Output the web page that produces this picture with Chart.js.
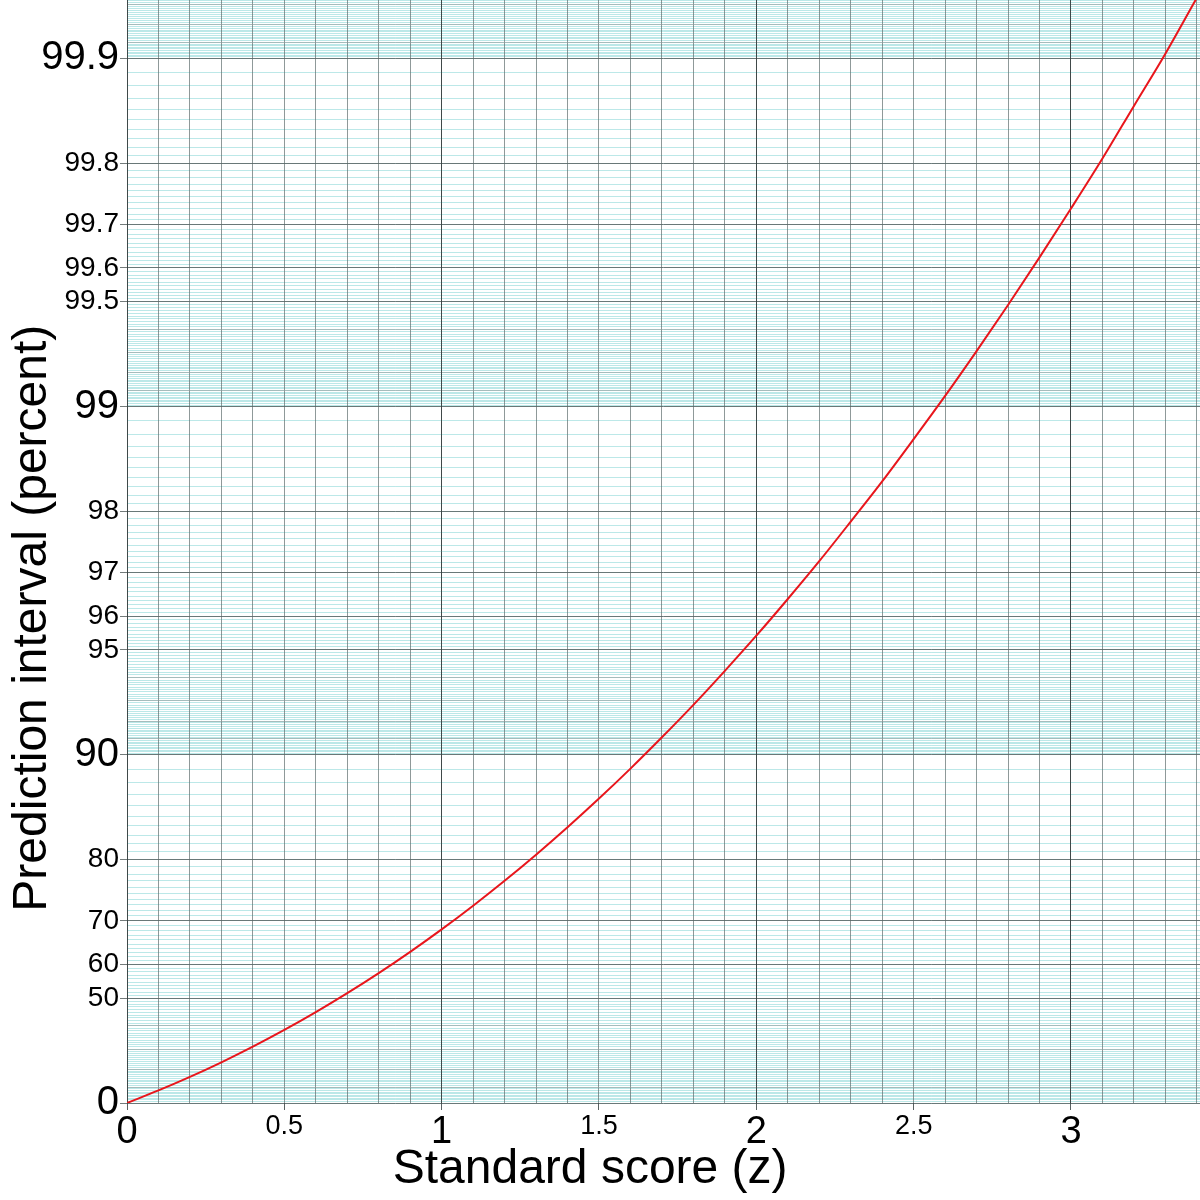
<!DOCTYPE html>
<html>
<head>
<meta charset="utf-8">
<script src="https://cdn.jsdelivr.net/npm/chart.js@4.4.1/dist/chart.umd.min.js"></script>
<style>
  body { margin: 0; background: #fff; }
</style>
</head>
<body>
<canvas id="zChart" width="1200" height="1200"></canvas>
<script>
// standard score vs prediction interval
const zScore = [0, 0.1, 0.2, 0.3, 0.4, 0.5, 0.6, 0.7, 0.8, 0.9,
    1.0, 1.1, 1.2, 1.3, 1.4, 1.5, 1.6, 1.7, 1.8, 1.9,
    2.0, 2.1, 2.2, 2.3, 2.4, 2.5, 2.6, 2.7, 2.8, 2.9,
    3.0, 3.1, 3.2, 3.3, 3.4];
const intervalPct = [0, 7.97, 15.85, 23.58, 31.08, 38.29, 45.15, 51.61, 57.63, 63.19,
    68.27, 72.87, 76.99, 80.64, 83.85, 86.64, 89.04, 91.09, 92.81, 94.26,
    95.45, 96.43, 97.22, 97.86, 98.36, 98.76, 99.068, 99.307, 99.489, 99.627,
    99.730, 99.806, 99.863, 99.903, 99.933];

// axis ticks
const xLabelTicks = [0, 0.5, 1, 1.5, 2, 2.5, 3];
const yLabelTicks = [0, 50, 60, 70, 80, 90, 95, 96, 97, 98, 99, 99.5, 99.6, 99.7, 99.8, 99.9];
const yBigTicks = [0, 90, 99, 99.9];
const yMidTicks = [10, 20, 30, 40, 91, 92, 93, 94, 99.1, 99.2, 99.3, 99.4, 99.91, 99.92, 99.93];

// fine graph-paper lines
const xGridTicks = [];
for (let i = 0; i <= 34; i++) xGridTicks.push(i / 10);
const yFineTicks = [];
for (let i = 0; i < 90; i++) yFineTicks.push(i);
for (let i = 0; i < 90; i++) yFineTicks.push(90 + i / 10);
for (let i = 0; i < 90; i++) yFineTicks.push(99 + i / 100);
for (let i = 0; i <= 32; i++) yFineTicks.push(99.9 + i / 1000);

const FONT = 'Liberation Sans, Arial, sans-serif';

// probability scale: position goes with -log10(1 - p)
const tf = p => -Math.log10(1 - p / 100);

class ProbabilityScale extends Chart.Scale {
    determineDataLimits() {
        this.min = this.options.min;
        this.max = this.options.max;
    }
    buildTicks() {
        return [];
    }
    getLabelForValue(value) {
        return String(value);
    }
    configure() {
        super.configure();
        this._startValue = tf(this.min);
        this._valueRange = tf(this.max) - this._startValue;
    }
    getPixelForValue(value) {
        return this.getPixelForDecimal((tf(value) - this._startValue) / this._valueRange);
    }
    getValueForPixel(pixel) {
        const v = this._startValue + this.getDecimalForPixel(pixel) * this._valueRange;
        return 100 * (1 - Math.pow(10, -v));
    }
}
ProbabilityScale.id = 'probability';
ProbabilityScale.defaults = {};
Chart.register(ProbabilityScale);

const setTicks = values => axis => { axis.ticks = values.map(v => ({ value: v })); };
const tickValue = ctx => ctx.tick ? ctx.tick.value : null;
// fixed axis size, no extra room for overhanging labels
const fixSize = (w, h) => axis => {
    if (w !== null) axis.width = w;
    if (h !== null) axis.height = h;
    axis.paddingTop = 0;
    axis.paddingBottom = 0;
    axis.paddingLeft = 0;
    axis.paddingRight = 0;
};

new Chart(document.getElementById('zChart'), {
    type: 'line',
    data: {
        datasets: [{
            data: zScore.map((z, i) => ({ x: z, y: intervalPct[i] })),
            borderColor: '#e8161c',
            borderWidth: 2,
            pointRadius: 0,
            cubicInterpolationMode: 'monotone',
            xAxisID: 'x',
            yAxisID: 'y'
        }]
    },
    options: {
        responsive: false,
        animation: false,
        events: [],
        layout: { padding: 0 },
        plugins: {
            legend: { display: false },
            tooltip: { enabled: false }
        },
        scales: {
            yFine: {
                type: 'probability',
                position: 'right',
                min: 0,
                max: 99.932,
                afterBuildTicks: setTicks(yFineTicks),
                afterFit: fixSize(0, null),
                ticks: { display: false },
                border: { display: false },
                grid: {
                    color: 'rgba(80,195,195,0.38)',
                    drawTicks: false,
                    z: -4
                }
            },
            xGrid: {
                type: 'linear',
                position: 'top',
                min: 0,
                max: 3.41,
                afterBuildTicks: setTicks(xGridTicks),
                afterFit: fixSize(null, 0),
                ticks: { display: false },
                border: { display: false },
                grid: {
                    color: 'rgba(95,110,110,0.7)',
                    drawTicks: false,
                    z: -3
                }
            },
            y: {
                type: 'probability',
                position: 'left',
                min: 0,
                max: 99.932,
                afterBuildTicks: setTicks(yLabelTicks.concat(yMidTicks)),
                afterFit: fixSize(127, null),
                border: { display: false },
                grid: {
                    color: ctx => yMidTicks.includes(tickValue(ctx)) ? 'rgba(150,160,160,0.6)' : 'rgba(90,100,100,0.85)',
                    tickColor: ctx => yMidTicks.includes(tickValue(ctx)) ? 'rgba(0,0,0,0)' : 'rgba(90,100,100,0.85)',
                    tickLength: 7,
                    z: -2
                },
                ticks: {
                    autoSkip: false,
                    padding: 1,
                    color: '#000',
                    callback: v => yLabelTicks.includes(v) ? String(v) : '',
                    font: ctx => ({ family: FONT, size: yBigTicks.includes(tickValue(ctx)) ? 40 : 28 })
                },
                title: {
                    display: true,
                    text: 'Prediction interval (percent)' + '\u00A0'.repeat(10),
                    color: '#000',
                    font: { family: FONT, size: 48 },
                    padding: { top: 4, bottom: 0 }
                }
            },
            x: {
                type: 'linear',
                position: 'bottom',
                min: 0,
                max: 3.41,
                afterBuildTicks: setTicks(xLabelTicks),
                afterFit: fixSize(null, 97),
                border: { display: false },
                grid: {
                    color: ctx => {
                        const v = tickValue(ctx);
                        return v !== null && !Number.isInteger(v) ? 'rgba(0,0,0,0)' : 'rgba(50,60,60,0.85)';
                    },
                    tickColor: 'rgba(60,70,70,0.85)',
                    tickLength: 7,
                    z: -1
                },
                ticks: {
                    autoSkip: false,
                    maxRotation: 0,
                    padding: 0,
                    color: '#000',
                    callback: v => String(v),
                    font: ctx => {
                        const v = tickValue(ctx);
                        return { family: FONT, size: v !== null && !Number.isInteger(v) ? 27 : 38 };
                    }
                },
                title: {
                    display: true,
                    text: 'Standard score (z)' + '\u00A0'.repeat(11),
                    color: '#000',
                    font: { family: FONT, size: 48 },
                    padding: { top: 0, bottom: 1 }
                }
            }
        }
    }
});
</script>
</body>
</html>
